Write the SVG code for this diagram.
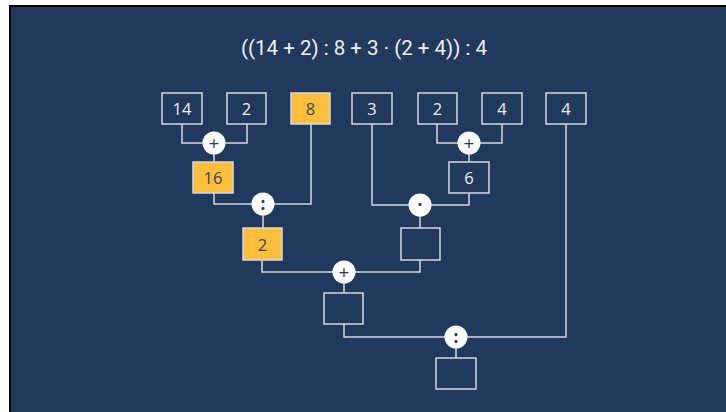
<svg xmlns="http://www.w3.org/2000/svg" width="726" height="412" viewBox="0 0 726 412">
<style>
.bx{fill:none;stroke:#d4d8de;stroke-width:1.5}
.yl{fill:#fdbf3b;stroke:#d4d8de;stroke-width:1.5}
.t{font-family:"Open Sans","Noto Sans",sans-serif;font-size:16.5px;fill:#eef0f2;text-anchor:middle}
.ty{font-family:"Open Sans","Noto Sans",sans-serif;font-size:16.5px;fill:#3c4656;text-anchor:middle}
.op{fill:#ffffff}
.ot{font-family:"Open Sans","Noto Sans",sans-serif;font-size:19px;fill:#2a3a55;text-anchor:middle}
.ob{font-family:"Open Sans","Noto Sans",sans-serif;font-size:17px;font-weight:bold;fill:#2a3a55;text-anchor:middle}
.ln{fill:none;stroke:#d4d8de;stroke-width:1.5}
</style>
<rect width="726" height="412" fill="#ffffff"/>
<rect x="9" y="5" width="717" height="407" fill="#000000"/>
<rect x="11" y="7" width="715" height="405" fill="#20395d"/>
<text x="364" y="55" font-family="Roboto,sans-serif" font-size="21" fill="#eef0f2" text-anchor="middle" textLength="246" lengthAdjust="spacingAndGlyphs">((14 + 2) : 8 + 3 · (2 + 4)) : 4</text>
<g id="connectors">
<path class="ln" d="M182 124V143H247V124"/>
<path class="ln" d="M214 143V162"/>
<path class="ln" d="M214 193V204H311V124"/>
<path class="ln" d="M263 204V228"/>
<path class="ln" d="M437 124V143H502V124"/>
<path class="ln" d="M469 143V162"/>
<path class="ln" d="M372 124V205H469V193"/>
<path class="ln" d="M420 205V228"/>
<path class="ln" d="M262 260V272H420V260"/>
<path class="ln" d="M344 272V293"/>
<path class="ln" d="M344 324V337H566V124"/>
<path class="ln" d="M456 337V358"/>
</g>
<g id="n14"><rect class="bx" x="162" y="93" width="40" height="31"/><text class="t" x="182" y="114.5">14</text></g>
<g id="n2a"><rect class="bx" x="227" y="93" width="39" height="31"/><text class="t" x="246.5" y="114.5">2</text></g>
<g id="n8"><rect class="yl" x="291" y="93" width="39" height="31"/><text class="ty" x="310.5" y="114.5">8</text></g>
<g id="n3"><rect class="bx" x="352" y="93" width="40" height="31"/><text class="t" x="372" y="114.5">3</text></g>
<g id="n2b"><rect class="bx" x="418" y="93" width="39" height="31"/><text class="t" x="437.5" y="114.5">2</text></g>
<g id="n4a"><rect class="bx" x="482" y="93" width="40" height="31"/><text class="t" x="502" y="114.5">4</text></g>
<g id="n4b"><rect class="bx" x="546" y="93" width="40" height="31"/><text class="t" x="566" y="114.5">4</text></g>
<g id="n16"><rect class="yl" x="193" y="162" width="40" height="31"/><text class="ty" x="213" y="183.5">16</text></g>
<g id="n6"><rect class="bx" x="449" y="162" width="40" height="31"/><text class="t" x="469" y="183.5">6</text></g>
<g id="n2c"><rect class="yl" x="243" y="228" width="39" height="32"/><text class="ty" x="262.5" y="250.5">2</text></g>
<g id="nE1"><rect class="bx" x="401" y="228" width="39" height="32"/></g>
<g id="nE2"><rect class="bx" x="324" y="293" width="39" height="31"/></g>
<g id="nE3"><rect class="bx" x="436" y="358" width="40" height="31"/></g>
<g id="op1"><circle class="op" cx="214" cy="143" r="11.5"/><text class="ot" x="214" y="149.5">+</text></g>
<g id="op2"><circle class="op" cx="469" cy="143" r="11.5"/><text class="ot" x="469" y="149.5">+</text></g>
<g id="op3"><circle class="op" cx="263" cy="204" r="11.5"/><text class="ob" x="263" y="210">:</text></g>
<g id="op4"><circle class="op" cx="420" cy="205" r="11.5"/><text class="ob" x="420" y="211">·</text></g>
<g id="op5"><circle class="op" cx="344" cy="272" r="11.5"/><text class="ot" x="344" y="278.5">+</text></g>
<g id="op6"><circle class="op" cx="456" cy="337" r="11.5"/><text class="ob" x="456" y="343">:</text></g>
</svg>
